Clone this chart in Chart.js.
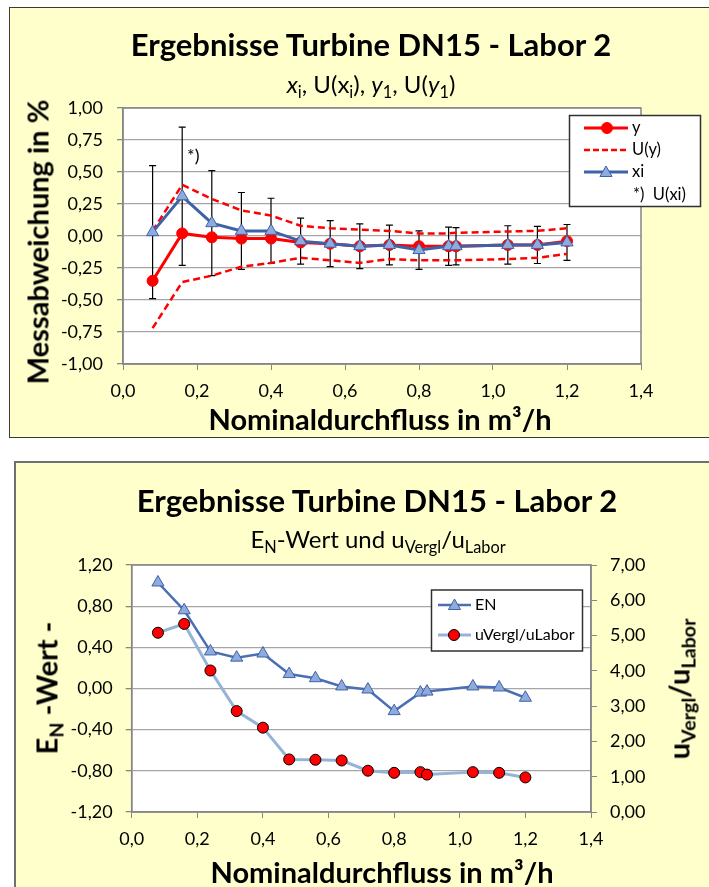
<!DOCTYPE html>
<html>
<head>
<meta charset="utf-8">
<script src="https://cdn.jsdelivr.net/npm/chart.js@4.4.1/dist/chart.umd.min.js"></script>
<style>
  body { margin: 0; width: 709px; height: 887px; overflow: hidden; position: relative; background: #fff; font-family: Lato, sans-serif; }
  .box { position: absolute; background: #FFFFCC; }
  #box1 { left: 9px; top: 7px; width: 760px; height: 429px; border: 1.5px solid #3a3a3a; }
  #box2 { left: 14px; top: 461px; width: 760px; height: 460px; border: 2px solid #707070; }
  canvas { position: absolute; left: 0; }
  .t { position: absolute; white-space: nowrap; color: #000; line-height: 1; transform: translate(-50%, -50%); }
  .rot { transform: translate(-50%, -50%) rotate(-90deg); }
  .big { font-weight: bold; font-size: 31px; }
  .subt { font-size: 24px; }
  .ax { font-weight: bold; font-size: 29px; }
  sub { font-size: 0.68em; vertical-align: -0.28em; line-height: 0; }
</style>
</head>
<body>
<div class="box" id="box1"></div>
<div class="box" id="box2"></div>
<canvas id="chartTop" width="709" height="440" style="top:0"></canvas>
<canvas id="chartBottom" width="709" height="437" style="top:450px"></canvas>

<div class="t big" style="left:371px;top:44px">Ergebnisse Turbine DN15 - Labor 2</div>
<div class="t subt" style="left:371px;top:84px"><i>x</i><sub>i</sub>, U(x<sub>i</sub>), <i>y</i><sub>1</sub>, U(<i>y</i><sub>1</sub>)</div>
<div class="t ax rot" style="left:37px;top:242px">Messabweichung in %</div>
<div class="t ax" style="left:380px;top:418px">Nominaldurchfluss in m³/h</div>

<div class="t big" style="left:377px;top:500px">Ergebnisse Turbine DN15 - Labor 2</div>
<div class="t subt" style="left:378px;top:539px">E<sub>N</sub>-Wert und u<sub>Vergl</sub>/u<sub>Labor</sub></div>
<div class="t ax rot" style="left:46px;top:688px">E<sub>N</sub> -Wert -</div>
<div class="t ax rot" style="left:678px;top:689px">u<sub>Vergl</sub>/u<sub>Labor</sub></div>
<div class="t ax" style="left:382px;top:871px">Nominaldurchfluss in m³/h</div>

<script>
// ===============================
//  DATEN
// ===============================
const flow = [0.08, 0.16, 0.24, 0.32, 0.40, 0.48, 0.56, 0.64, 0.72, 0.80, 0.88, 0.90, 1.04, 1.12, 1.20];

// oberes Diagramm
const yVals   = [-0.35, 0.02, -0.01, -0.02, -0.02, -0.05, -0.06, -0.08, -0.07, -0.08, -0.08, -0.08, -0.07, -0.07, -0.04];
const uyUpper = [0.04, 0.40, 0.29, 0.20, 0.16, 0.08, 0.06, 0.05, 0.04, 0.02, 0.02, 0.025, 0.035, 0.04, 0.06];
const uyLower = [-0.72, -0.36, -0.31, -0.24, -0.21, -0.17, -0.19, -0.21, -0.18, -0.19, -0.19, -0.19, -0.18, -0.17, -0.14];
const xiVals  = [0.03, 0.31, 0.10, 0.04, 0.04, -0.04, -0.06, -0.08, -0.07, -0.11, -0.08, -0.08, -0.07, -0.07, -0.05];
const uxi     = [0.52, 0.54, 0.41, 0.30, 0.255, 0.18, 0.18, 0.175, 0.155, 0.15, 0.15, 0.145, 0.15, 0.145, 0.14];

// unteres Diagramm
const enVals    = [1.03, 0.76, 0.36, 0.30, 0.34, 0.14, 0.10, 0.02, -0.01, -0.22, -0.04, -0.03, 0.02, 0.01, -0.09];
const ratioVals = [5.08, 5.33, 4.01, 2.86, 2.39, 1.49, 1.48, 1.46, 1.17, 1.11, 1.13, 1.06, 1.13, 1.11, 0.98];

const noteX = 0.19, noteY = 0.62;   // "*)" Hinweis

const RED = "#FF0000";
const BLUE = "#3F62A6";
const TRI_FILL = "#8FAADC";
const LIGHT_BLUE = "#95B3D7";

Chart.defaults.font.family = "Lato, sans-serif";
Chart.defaults.font.size = 18;
Chart.defaults.color = "#000";

const pts = vals => vals.map((v, i) => ({ x: flow[i], y: v }));
const comma = d => v => v.toFixed(d).replace(".", ",");

function tri(ctx, x, y, r) {
  ctx.beginPath();
  ctx.moveTo(x, y - r);
  ctx.lineTo(x + r * 0.866, y + r / 2);
  ctx.lineTo(x - r * 0.866, y + r / 2);
  ctx.closePath();
  ctx.fill();
  ctx.stroke();
}
function dot(ctx, x, y, r) {
  ctx.beginPath();
  ctx.arc(x, y, r, 0, Math.PI * 2);
  ctx.fill();
  ctx.stroke();
}

// Plotfläche weiß + Rahmen
const areaPlugin = {
  id: "area",
  beforeDraw(chart) {
    const { ctx, chartArea: a } = chart;
    ctx.save();
    ctx.fillStyle = "#fff";
    ctx.fillRect(a.left, a.top, a.width, a.height);
    ctx.restore();
  },
  beforeDatasetsDraw(chart) {
    const { ctx, chartArea: a } = chart;
    ctx.save();
    ctx.strokeStyle = "#868686";
    ctx.lineWidth = 1.5;
    ctx.strokeRect(a.left, a.top, a.width, a.height);
    ctx.restore();
  }
};

// Fehlerbalken U(xi)
const errorBars = {
  id: "errorBars",
  beforeDatasetsDraw(chart) {
    const { ctx, scales } = chart;
    ctx.save();
    ctx.strokeStyle = "#000";
    ctx.lineWidth = 1.2;
    flow.forEach((f, i) => {
      const x = scales.x.getPixelForValue(f);
      const yt = scales.y.getPixelForValue(xiVals[i] + uxi[i]);
      const yb = scales.y.getPixelForValue(xiVals[i] - uxi[i]);
      ctx.beginPath();
      ctx.moveTo(x, yt); ctx.lineTo(x, yb);
      ctx.moveTo(x - 3.5, yt); ctx.lineTo(x + 3.5, yt);
      ctx.moveTo(x - 3.5, yb); ctx.lineTo(x + 3.5, yb);
      ctx.stroke();
    });
    ctx.font = "18px Lato, sans-serif";
    ctx.fillStyle = "#000";
    ctx.textAlign = "center";
    ctx.textBaseline = "middle";
    ctx.fillText("*)", scales.x.getPixelForValue(noteX), scales.y.getPixelForValue(noteY));
    ctx.restore();
  }
};

// Legende oben
const legendTop = {
  id: "legendTop",
  afterDraw(chart) {
    const ctx = chart.ctx;
    ctx.save();
    ctx.fillStyle = "#fff";
    ctx.fillRect(569.5, 115.5, 131, 91);
    ctx.strokeStyle = "#303030";
    ctx.lineWidth = 1.5;
    ctx.strokeRect(569.5, 115.5, 131, 91);

    ctx.lineWidth = 3;
    ctx.strokeStyle = RED;
    ctx.beginPath(); ctx.moveTo(584, 128); ctx.lineTo(628, 128); ctx.stroke();
    ctx.fillStyle = RED; ctx.lineWidth = 1;
    dot(ctx, 607, 128, 5.5);

    ctx.lineWidth = 2.5;
    ctx.setLineDash([6, 3]);
    ctx.beginPath(); ctx.moveTo(584, 150); ctx.lineTo(628, 150); ctx.stroke();
    ctx.setLineDash([]);

    ctx.lineWidth = 3;
    ctx.strokeStyle = BLUE;
    ctx.beginPath(); ctx.moveTo(584, 172); ctx.lineTo(628, 172); ctx.stroke();
    ctx.fillStyle = TRI_FILL; ctx.lineWidth = 1;
    tri(ctx, 606, 173, 7);

    ctx.fillStyle = "#000";
    ctx.font = "16.5px Lato, sans-serif";
    ctx.textBaseline = "middle";
    ctx.fillText("y", 632, 128);
    ctx.fillText("U(y)", 632, 150);
    ctx.fillText("xi", 632, 172);
    ctx.fillText("*)  U(xi)", 633, 195);
    ctx.restore();
  }
};

// Legende unten
const legendBottom = {
  id: "legendBottom",
  afterDraw(chart) {
    const ctx = chart.ctx;
    ctx.save();
    ctx.fillStyle = "#fff";
    ctx.fillRect(431.5, 140, 151, 61);
    ctx.strokeStyle = "#303030";
    ctx.lineWidth = 1.5;
    ctx.strokeRect(431.5, 140, 151, 61);

    ctx.lineWidth = 2.5;
    ctx.strokeStyle = "#4A6FB5";
    ctx.beginPath(); ctx.moveTo(438, 155); ctx.lineTo(471, 155); ctx.stroke();
    ctx.fillStyle = TRI_FILL; ctx.strokeStyle = BLUE; ctx.lineWidth = 1;
    tri(ctx, 454.5, 156, 7);

    ctx.lineWidth = 3;
    ctx.strokeStyle = LIGHT_BLUE;
    ctx.beginPath(); ctx.moveTo(438, 185); ctx.lineTo(471, 185); ctx.stroke();
    ctx.fillStyle = RED; ctx.strokeStyle = "#000"; ctx.lineWidth = 1;
    dot(ctx, 454, 185, 5.5);

    ctx.fillStyle = "#000";
    ctx.font = "16px Lato, sans-serif";
    ctx.textBaseline = "middle";
    ctx.fillText("EN", 475, 155);
    ctx.fillText("uVergl/uLabor", 475, 185);
    ctx.restore();
  }
};

// ===============================
//  DIAGRAMM OBEN
// ===============================
new Chart(document.getElementById("chartTop"), {
  type: "line",
  data: {
    datasets: [
      {
        label: "xi", data: pts(xiVals), order: 0,
        borderColor: BLUE, borderWidth: 3,
        pointStyle: "triangle", pointRadius: 7,
        pointBackgroundColor: TRI_FILL, pointBorderColor: BLUE, pointBorderWidth: 1
      },
      {
        label: "y", data: pts(yVals), order: 1,
        borderColor: RED, borderWidth: 3,
        pointStyle: "circle", pointRadius: 5.5,
        pointBackgroundColor: RED, pointBorderColor: RED, pointBorderWidth: 1
      },
      {
        label: "U(y)", data: pts(uyUpper), order: 2,
        borderColor: RED, borderWidth: 2.5, borderDash: [7, 4], pointRadius: 0
      },
      {
        label: "U(y) unten", data: pts(uyLower), order: 2,
        borderColor: RED, borderWidth: 2.5, borderDash: [7, 4], pointRadius: 0
      }
    ]
  },
  options: {
    responsive: false,
    animation: false,
    events: [],
    devicePixelRatio: 1,
    layout: { padding: { left: 0, top: 108, right: 68, bottom: 31 } },
    plugins: { legend: { display: false }, tooltip: { enabled: false } },
    scales: {
      x: {
        type: "linear", min: 0, max: 1.4,
        afterFit: s => { s.height = 45; },
        ticks: { stepSize: 0.2, padding: 10, callback: comma(1) },
        grid: { drawOnChartArea: false, tickLength: 6, color: "#868686" },
        border: { color: "#868686", width: 1.5 }
      },
      y: {
        min: -1, max: 1,
        afterFit: s => { s.width = 123; },
        ticks: { stepSize: 0.25, padding: 14, callback: comma(2) },
        grid: { color: "#A6A6A6", lineWidth: 1.3, tickLength: 6, tickColor: "#868686" },
        border: { color: "#868686", width: 1.5 }
      }
    }
  },
  plugins: [areaPlugin, errorBars, legendTop]
});

// ===============================
//  DIAGRAMM UNTEN
// ===============================
new Chart(document.getElementById("chartBottom"), {
  type: "line",
  data: {
    datasets: [
      {
        label: "uVergl/uLabor", data: pts(ratioVals), yAxisID: "y1", order: 0,
        borderColor: LIGHT_BLUE, borderWidth: 3,
        pointStyle: "circle", pointRadius: 5.5,
        pointBackgroundColor: RED, pointBorderColor: "#000", pointBorderWidth: 1
      },
      {
        label: "EN", data: pts(enVals), yAxisID: "y", order: 1,
        borderColor: "#4A6FB5", borderWidth: 2.5,
        pointStyle: "triangle", pointRadius: 7,
        pointBackgroundColor: TRI_FILL, pointBorderColor: BLUE, pointBorderWidth: 1
      }
    ]
  },
  options: {
    responsive: false,
    animation: false,
    events: [],
    devicePixelRatio: 1,
    layout: { padding: { left: 0, top: 115, right: 0, bottom: 30 } },
    plugins: { legend: { display: false }, tooltip: { enabled: false } },
    scales: {
      x: {
        type: "linear", min: 0, max: 1.4,
        afterFit: s => { s.height = 45; },
        ticks: { stepSize: 0.2, padding: 10, callback: comma(1) },
        grid: { drawOnChartArea: false, tickLength: 6, color: "#868686" },
        border: { color: "#868686", width: 1.5 }
      },
      y: {
        position: "left", min: -1.2, max: 1.2,
        afterFit: s => { s.width = 131.7; },
        ticks: { stepSize: 0.4, padding: 13, callback: comma(2) },
        grid: { color: "#A6A6A6", lineWidth: 1.3, tickLength: 6, tickColor: "#868686" },
        border: { color: "#868686", width: 1.5 }
      },
      y1: {
        position: "right", min: 0, max: 7,
        afterFit: s => { s.width = 118; },
        ticks: { stepSize: 1, padding: 13, callback: comma(2) },
        grid: { drawOnChartArea: false, tickLength: 6, color: "#868686" },
        border: { color: "#868686", width: 1.5 }
      }
    }
  },
  plugins: [areaPlugin, legendBottom]
});
</script>
</body>
</html>
